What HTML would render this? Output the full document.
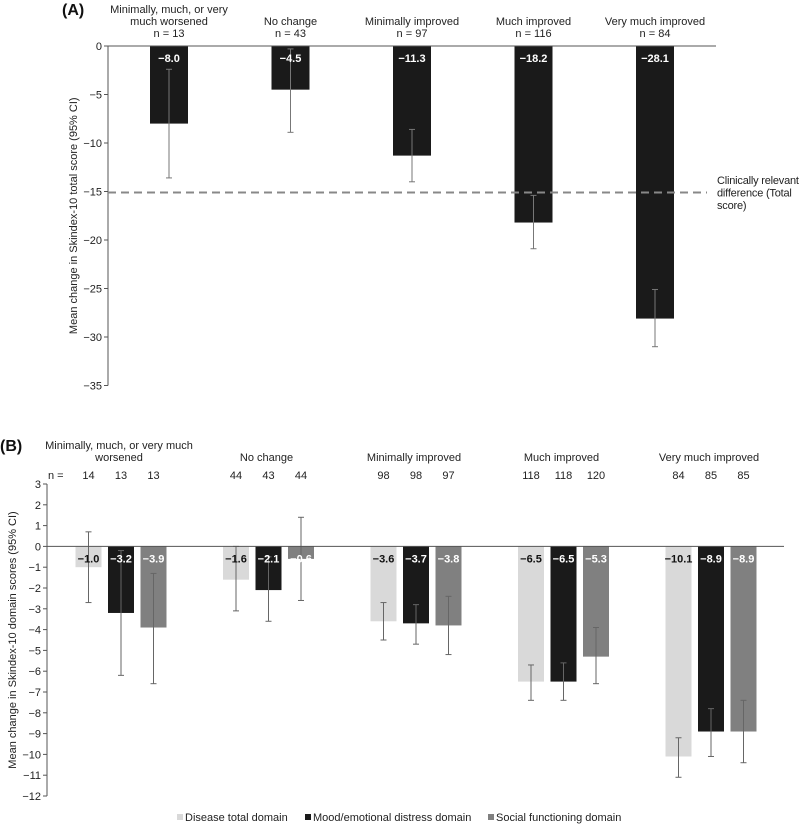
<!DOCTYPE html>
<html><head><meta charset="utf-8"><style>
body{margin:0;background:#fff;}
svg{display:block;font-family:"Liberation Sans",Arial,sans-serif;}
</style></head><body>
<svg id="chart" width="799" height="824" viewBox="0 0 799 824" xmlns="http://www.w3.org/2000/svg"></svg>
<script>
// Panel A data
const aCategories = [["Minimally, much, or very","much worsened","n = 13"],["No change","n = 43"],["Minimally improved","n = 97"],["Much improved","n = 116"],["Very much improved","n = 84"]];
const aValues = [-8.0, -4.5, -11.3, -18.2, -28.1];
const aLabels = ["\u22128.0","\u22124.5","\u221211.3","\u221218.2","\u221228.1"];
const aCiHigh = [-2.4, -0.3, -8.6, -15.4, -25.1];
const aCiLow = [-13.6, -8.9, -14.0, -20.9, -31.0];
const aTicks = [0,-5,-10,-15,-20,-25,-30,-35];
const aThreshold = -15.1;

// Panel B data
const bCategories = [["Minimally, much, or very much","worsened"],["No change"],["Minimally improved"],["Much improved"],["Very much improved"]];
const bSeries = ["Disease total domain","Mood/emotional distress domain","Social functioning domain"];
const bN = [[14,13,13],[44,43,44],[98,98,97],[118,118,120],[84,85,85]];
const bDisease = [-1.0,-1.6,-3.6,-6.5,-10.1];
const bMood = [-3.2,-2.1,-3.7,-6.5,-8.9];
const bSocial = [-3.9,-0.6,-3.8,-5.3,-8.9];
const bDiseaseHi = [0.7,0.0,-2.7,-5.7,-9.2];
const bDiseaseLo = [-2.7,-3.1,-4.5,-7.4,-11.1];
const bMoodHi = [-0.2,-0.5,-2.8,-5.6,-7.8];
const bMoodLo = [-6.2,-3.6,-4.7,-7.4,-10.1];
const bSocialHi = [-1.3,1.4,-2.4,-3.9,-7.4];
const bSocialLo = [-6.6,-2.6,-5.2,-6.6,-10.4];
const bTicks = [3,2,1,0,-1,-2,-3,-4,-5,-6,-7,-8,-9,-10,-11,-12];

const svg = document.getElementById('chart');
const NS = 'http://www.w3.org/2000/svg';
function mk(tag, attrs, text){
  const e = document.createElementNS(NS, tag);
  for (const k in attrs) e.setAttribute(k, attrs[k]);
  if (text !== undefined) e.textContent = text;
  svg.appendChild(e);
  return e;
}
function fmt(v){ return v < 0 ? '\u2212' + Math.abs(v) : String(v); }
function fmt1(v){ return v < 0 ? '\u2212' + Math.abs(v).toFixed(1) : v.toFixed(1); }

// ---------- Panel A ----------
const aX0 = 108, aXEnd = 716;
const aY = v => 46 + (-v) * 9.7;
const aXc = i => 169 + i * 121.5;
const aBw = 38;

let t = mk('text',{x:62,y:15,'font-size':16,'font-weight':'bold',fill:'#111'},'(A)');



aTicks.forEach(v=>{
  const y = aY(v);
  let l = mk('line',{x1:104,x2:aX0,y1:y,y2:y,stroke:'#555','stroke-width':1});
  
  
  let tx = mk('text',{x:102,y:y+4,'font-size':11,'text-anchor':'end',fill:'#222'},fmt(v));
  
  
});
let ay = mk('line',{x1:aX0,x2:aX0,y1:aY(0),y2:aY(-35),stroke:'#555','stroke-width':1});


let at = mk('text',{x:0,y:0,'font-size':11,'text-anchor':'middle',fill:'#222',transform:'translate(77,'+((aY(0)+aY(-35))/2)+') rotate(-90)'},'Mean change in Skindex-10 total score (95% CI)');



aValues.forEach((v,i)=>{
  const xc = aXc(i);
  let r = mk('rect',{x:xc-aBw/2,y:aY(0),width:aBw,height:aY(v)-aY(0),fill:'#1a1a1a'});
  
  
  let e = mk('line',{x1:xc,x2:xc,y1:aY(aCiHigh[i]),y2:aY(aCiLow[i]),stroke:'#777','stroke-width':1});
  
  
  [aCiHigh[i],aCiLow[i]].forEach(c=>{
    let cap = mk('line',{x1:xc-3,x2:xc+3,y1:aY(c),y2:aY(c),stroke:'#777','stroke-width':1});
    
    
  });
  let vl = mk('text',{x:xc,y:aY(0)+16,'font-size':11,'font-weight':'bold','text-anchor':'middle',fill:'#fff'},aLabels[i]);
  
  
  const lines = aCategories[i];
  lines.forEach((s,k)=>{
    const y = 37 - (lines.length-1-k)*12;
    let c = mk('text',{x:xc,y:y,'font-size':11,'text-anchor':'middle',fill:'#222'},s);
    
    
  });
});
let ax = mk('line',{x1:aX0,x2:aXEnd,y1:aY(0),y2:aY(0),stroke:'#555','stroke-width':1});


let th = mk('line',{x1:aX0,x2:707,y1:aY(aThreshold),y2:aY(aThreshold),stroke:'#888','stroke-width':2,'stroke-dasharray':'8,5'});


['Clinically relevant','difference (Total','score)'].forEach((s,k)=>{
  let c = mk('text',{x:717,y:184+k*12.5,'font-size':11,'letter-spacing':'-0.2',fill:'#222'},s);
  
  
});

// ---------- Panel B ----------
const bX0 = 47, bXEnd = 784;
const bY = v => 546.4 - v * 20.8;
const gXc = g => 121 + g * 147.5;
const bBw = 26, bOff = 32.5;
const bColors = ['#d9d9d9','#1a1a1a','#808080'];
const bTextColors = ['#111','#fff','#fff'];
const bVals = [bDisease,bMood,bSocial];
const bHi = [bDiseaseHi,bMoodHi,bSocialHi];
const bLo = [bDiseaseLo,bMoodLo,bSocialLo];

t = mk('text',{x:0,y:451,'font-size':16,'font-weight':'bold',fill:'#111'},'(B)');



bTicks.forEach(v=>{
  const y = bY(v);
  let l = mk('line',{x1:43,x2:bX0,y1:y,y2:y,stroke:'#555','stroke-width':1});
  
  
  let tx = mk('text',{x:41,y:y+4,'font-size':11,'text-anchor':'end',fill:'#222'},fmt(v));
  
  
});
let by = mk('line',{x1:bX0,x2:bX0,y1:bY(3),y2:bY(-12),stroke:'#555','stroke-width':1});


let bt = mk('text',{x:0,y:0,'font-size':11,'text-anchor':'middle',fill:'#222',transform:'translate(16,'+((bY(3)+bY(-12))/2)+') rotate(-90)'},'Mean change in Skindex-10 domain scores (95% CI)');



let nl = mk('text',{x:48,y:479,'font-size':11,fill:'#222'},'n =');



bCategories.forEach((lines,g)=>{
  const gc = gXc(g) - 2;
  lines.forEach((s,k)=>{
    const y = 461 - (lines.length-1-k)*12;
    let c = mk('text',{x:gc,y:y,'font-size':11,'text-anchor':'middle',fill:'#222'},s);
    
    
  });
  for(let s=0;s<3;s++){
    const xc = gXc(g) + (s-1)*bOff;
    const v = bVals[s][g];
    let r = mk('rect',{x:xc-bBw/2,y:bY(0),width:bBw,height:bY(v)-bY(0),fill:bColors[s]});
    
    
    let nt = mk('text',{x:xc,y:479,'font-size':11,'text-anchor':'middle',fill:'#222'},String(bN[g][s]));
    
    
    let e = mk('line',{x1:xc,x2:xc,y1:bY(bHi[s][g]),y2:bY(bLo[s][g]),stroke:'#666','stroke-width':1});
    
    
    [bHi[s][g],bLo[s][g]].forEach(c=>{
      let cap = mk('line',{x1:xc-3,x2:xc+3,y1:bY(c),y2:bY(c),stroke:'#666','stroke-width':1});
      
      
    });
    let vl = mk('text',{x:xc,y:bY(0)+16,'font-size':11,'font-weight':'bold','text-anchor':'middle',fill:bTextColors[s]},fmt1(v));
    
    
  }
});
let bx = mk('line',{x1:bX0,x2:bXEnd,y1:bY(0),y2:bY(0),stroke:'#555','stroke-width':1});



const legX = [177,305,488];
bSeries.forEach((s,i)=>{
  let sq = mk('rect',{x:legX[i],y:814,width:6,height:6,fill:bColors[i]});
  
  
  let lt = mk('text',{x:legX[i]+8,y:821,'font-size':11,fill:'#222'},s);
  
  
});
</script>
</body></html>
